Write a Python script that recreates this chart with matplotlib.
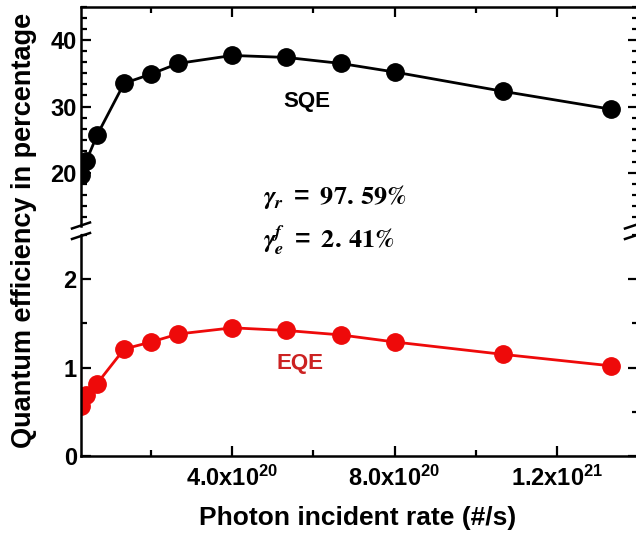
import numpy as np
import matplotlib
matplotlib.use("Agg")
import matplotlib.pyplot as plt
from matplotlib.ticker import MultipleLocator, AutoMinorLocator, FixedLocator
from matplotlib.lines import Line2D

plt.rcParams['font.family'] = 'Liberation Sans'
plt.rcParams['font.weight'] = 'bold'
plt.rcParams['mathtext.fontset'] = 'custom'
plt.rcParams['mathtext.rm'] = 'Liberation Sans:bold'
plt.rcParams['mathtext.bf'] = 'Liberation Sans:bold'
plt.rcParams['mathtext.it'] = 'Liberation Sans:bold:italic'
plt.rcParams['mathtext.default'] = 'regular'

# data (photon incident rate in #/s, efficiencies in %)
rate = np.array([0.27, 0.4, 0.667, 1.333, 2.0, 2.667, 4.0, 5.333, 6.667, 8.0, 10.667, 13.333]) * 1e20
sqe = [19.7, 21.8, 25.7, 33.5, 34.9, 36.5, 37.7, 37.4, 36.5, 35.2, 32.3, 29.6]
eqe = [0.57, 0.69, 0.82, 1.21, 1.29, 1.38, 1.45, 1.42, 1.37, 1.29, 1.15, 1.02]

xtick_pos = [4e20, 8e20, 1.2e21]
xtick_lab = ['4.0x10$^{20}$', '8.0x10$^{20}$', '1.2x10$^{21}$']

red = '#ee0a0a'
txt_red = '#cc2222'

fig = plt.figure(figsize=(6.36, 5.34), dpi=100)
W, H = 636, 534
left, right = 81 / W, 638 / W
ax_top = fig.add_axes([left, 1 - 226 / H, right - left, (226 - 7) / H])
ax_bot = fig.add_axes([left, 1 - 456 / H, right - left, (456 - 235) / H])

ax_top.plot(rate, sqe, '-o', color='black', lw=2, ms=12.5)
ax_bot.plot(rate, eqe, '-o', color=red, lw=2, ms=12.5)

ax_top.set_ylim(12, 45)
ax_bot.set_ylim(0, 2.5)
for ax in (ax_top, ax_bot):
    ax.set_xlim(0.27e20, 1.4e21)
    ax.xaxis.set_major_locator(FixedLocator(xtick_pos))
    ax.xaxis.set_minor_locator(MultipleLocator(2e20))
    for s in ax.spines.values():
        s.set_linewidth(1.8)
    ax.tick_params(which='both', direction='in', width=1.6, right=True, labelsize=17)
    ax.tick_params(which='major', length=7)
    ax.tick_params(which='minor', length=4)

ax_top.spines['bottom'].set_visible(False)
ax_top.tick_params(axis='x', which='both', bottom=False, top=True, labelbottom=False)
ax_top.yaxis.set_major_locator(MultipleLocator(10))
ax_top.yaxis.set_minor_locator(AutoMinorLocator(6))

ax_bot.spines['top'].set_visible(False)
ax_bot.tick_params(axis='x', which='both', top=False)
ax_bot.yaxis.set_major_locator(MultipleLocator(1))
ax_bot.yaxis.set_minor_locator(AutoMinorLocator(2))
ax_bot.set_xticklabels(xtick_lab)
ax_bot.tick_params(axis='x', pad=7)
ax_top.tick_params(axis='y', pad=3)
ax_bot.tick_params(axis='y', pad=3)

# break marks
for xc in (left, right - 4 / W):
    for yc in (1 - 225.5 / H, 1 - 236 / H):
        fig.add_artist(Line2D([xc - 9 / W, xc + 9 / W], [yc - 3 / H, yc + 3 / H],
                              color='black', lw=1.8))

fig.text(358 / W, 1 - 518 / H, 'Photon incident rate (#/s)', ha='center', va='center', fontsize=19)
fig.text(24 / W, 1 - 230 / H, 'Quantum efficiency in percentage', rotation=90,
         ha='center', va='center', fontsize=19.5)

fig.text(307 / W, 1 - 101 / H, 'SQE', ha='center', va='center', fontsize=16, color='black')
fig.text(300 / W, 1 - 364 / H, 'EQE', ha='center', va='center', fontsize=16, color=txt_red)

fig.text(263 / W, 1 - 197 / H, r'$\mathbfit{\gamma}_{\mathbfit{r}}\ =\ \mathbf{97.\,59\%}$',
         ha='left', va='center', fontsize=19, math_fontfamily='stix')
fig.text(263 / W, 1 - 240 / H, r'$\mathbfit{\gamma}_{\mathbfit{e}}^{\mathbfit{f}}\ =\ \mathbf{2.\,41\%}$',
         ha='left', va='center', fontsize=19, math_fontfamily='stix')

fig.savefig('out.png', dpi=100)
